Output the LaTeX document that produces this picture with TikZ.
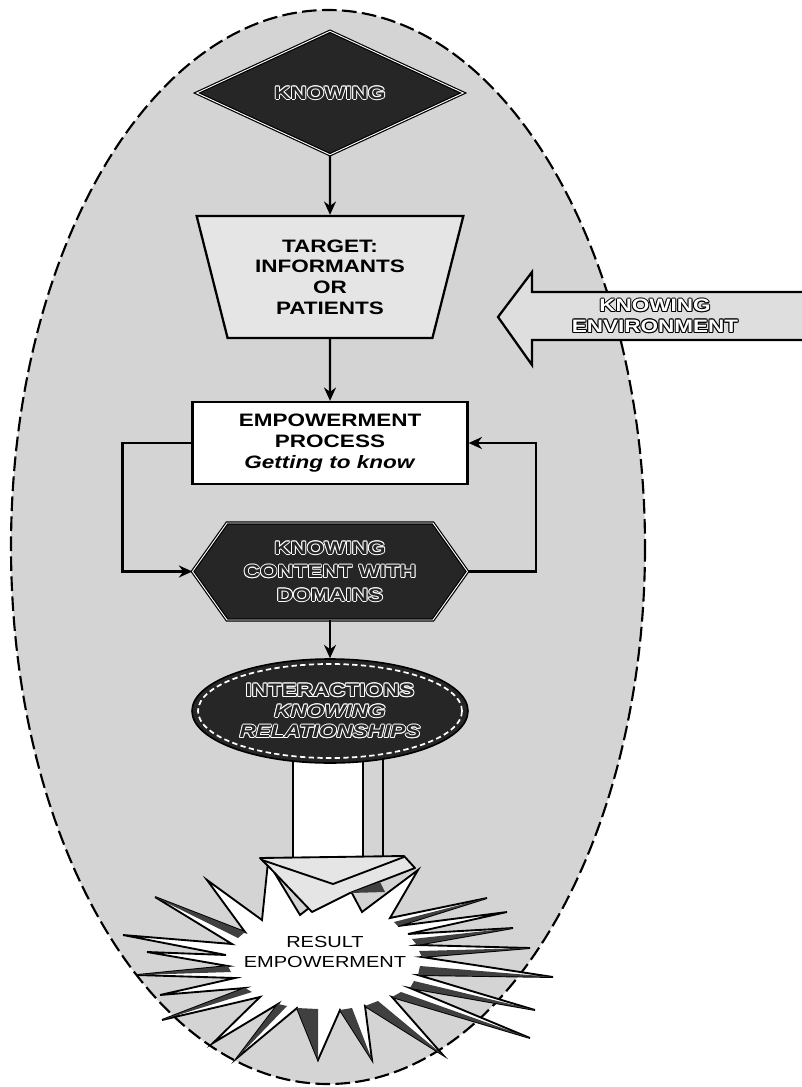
\documentclass[tikz,border=0pt]{standalone}
\usepackage{fontspec}
\setmainfont{Liberation Sans}[FakeStretch=1.25]
\usetikzlibrary{shapes.geometric,arrows.meta}
\newcommand\olt[3]{\leavevmode
 \rlap{\color{#2}\hspace*{-0.7pt}#3}\rlap{\color{#2}\hspace*{0.7pt}#3}%
 \rlap{\color{#2}\raisebox{0.7pt}{#3}}\rlap{\color{#2}\raisebox{-0.7pt}{#3}}%
 \rlap{\color{#2}\hspace*{0.5pt}\raisebox{0.5pt}{#3}}\rlap{\color{#2}\hspace*{-0.5pt}\raisebox{0.5pt}{#3}}%
 \rlap{\color{#2}\hspace*{0.5pt}\raisebox{-0.5pt}{#3}}\rlap{\color{#2}\hspace*{-0.5pt}\raisebox{-0.5pt}{#3}}%
 {\color{#1}#3}}
\newcommand\dk[1]{\olt{black!85}{white}{#1}}
\newcommand\lt[1]{\olt{white}{black}{#1}}
\begin{document}
\begin{tikzpicture}[x=0.75pt,y=-0.75pt,
  conn/.style={line width=1.8pt,-{Stealth[length=10pt,width=9pt]}},
  thick line/.style={line width=1.7pt},
  darkfill/.style={fill=black!85,draw=black,double=white,double distance=0.7pt,line width=0.9pt},
  darktext/.style={font=\bfseries\fontsize{13.5}{15.5}\selectfont,align=center,inner sep=0pt},
  lbl/.style={font=\bfseries\fontsize{13.5}{15.5}\selectfont,align=center},
  bgfill/.style={fill=black!17},
  shade/.style={fill=black!75,draw=none}]
\useasboundingbox (0,0) rectangle (801,1087);
\fill[white] (0,0) rectangle (801,1087);
% background ellipse
\draw[bgfill, draw=black, line width=1.6pt, dash pattern=on 11pt off 4pt] (328,547) ellipse [x radius=317, y radius=537];
% knowing environment arrow
\draw[thick line, fill=black!13] (498,317) -- (532,272) -- (532,292) -- (806,292) -- (806,340) -- (532,340) -- (532,365) -- cycle;
\node[lbl] (env) at (655,316) {\lt{KNOWING}\\\lt{ENVIRONMENT}};
% diamond
\node[darkfill, darktext, diamond, aspect=2, minimum width=267*0.75pt, minimum height=124*0.75pt] (know) at (330,93) {\dk{KNOWING}};
% trapezium
\node[lbl, trapezium, shape border rotate=180, trapezium left angle=74, trapezium right angle=74, trapezium stretches=true, draw, thick line, fill=black!10, minimum width=267*0.75pt, minimum height=122*0.75pt] (target) at (330,277) {TARGET:\\INFORMANTS\\OR\\PATIENTS};
% empowerment box
\node[lbl, draw, thick line, fill=white, minimum width=275*0.75pt, minimum height=82*0.75pt] (emp) at (330,443) {EMPOWERMENT\\PROCESS\\\textit{Getting to know}};
% hexagon
\draw[darkfill] (192.5,571.5) -- (227,523) -- (433,523) -- (467.5,571.5) -- (433,620) -- (227,620) -- cycle;
\node[darktext, font=\bfseries\fontsize{13.5}{17.6}\selectfont, minimum width=275*0.75pt, minimum height=97*0.75pt] (hex) at (330,571.5) {\dk{KNOWING}\\\dk{CONTENT WITH}\\\dk{DOMAINS}};
% big arrow shaft
\draw[line width=1.4pt, fill=white] (293,740) rectangle (363,858);
\draw[line width=1.4pt] (383,740) -- (383,856);
% interactions ellipse
\node[darktext, ellipse, fill=black!85, draw=black, line width=1.2pt, minimum width=276*0.75pt, minimum height=104*0.75pt] (inter) at (330,711) {\dk{INTERACTIONS}\\\dk{\textit{KNOWING}}\\\dk{\textit{RELATIONSHIPS}}};
\draw[white, line width=1.3pt, dash pattern=on 4pt off 2.5pt] (inter.center) ellipse [x radius=132, y radius=47];
% starburst
\draw[line width=1.4pt, fill=white, line join=miter]
 (268,862) -- (300,915) -- (345,880) -- (362,912) -- (418,870) -- (390,918) -- (487,898) -- (398,926)
 -- (507,912) -- (408,934) -- (513,928) -- (417,945) -- (530,948) -- (422,957) -- (553,977) -- (418,975)
 -- (535,1010) -- (410,988) -- (530,1038) -- (392,997) -- (443,1055) -- (365,1006) -- (372,1060) -- (340,1010)
 -- (318,1060) -- (297,1008) -- (237,1058) -- (278,1004) -- (213,1043) -- (260,997) -- (162,1020) -- (245,988)
 -- (160,995) -- (235,978) -- (137,975) -- (228,966) -- (147,952) -- (226,955) -- (123,935) -- (232,944)
 -- (155,897) -- (245,932) -- (207,880) -- (262,920) -- cycle;
% shaded spike halves
\fill[shade] (487,898) -- (394,922) -- (398,926) -- cycle;
\fill[shade] (513,928) -- (412,939) -- (417,945) -- cycle;
\fill[shade] (530,948) -- (419,951) -- (422,957) -- cycle;
\fill[shade] (553,977) -- (420,966) -- (418,975) -- cycle;
\fill[shade] (535,1010) -- (414,981) -- (410,988) -- cycle;
\fill[shade] (530,1038) -- (401,992) -- (392,997) -- cycle;
\fill[shade] (443,1055) -- (378,1001) -- (365,1006) -- cycle;
\fill[shade] (372,1060) -- (352,1008) -- (340,1010) -- cycle;
\fill[shade] (318,1060) -- (318,1009) -- (297,1008) -- cycle;
\fill[shade] (237,1058) -- (287,1006) -- (278,1004) -- cycle;
\fill[shade] (162,1020) -- (252,992) -- (245,988) -- cycle;
\fill[shade] (137,975) -- (231,972) -- (228,966) -- cycle;
\fill[shade] (155,897) -- (238,938) -- (245,932) -- cycle;
% arrow head
\draw[line width=1.4pt, fill=black!10, line join=round] (260,858) -- (404,856) -- (415,868) -- (350,893) -- (312,912) -- (270,868) -- cycle;
\fill[shade] (350,893) -- (380,882) -- (385,892) -- cycle;
\draw[line width=1.4pt] (262,860) -- (333,884) -- (404,857);
\node[font=\fontsize{12}{14.3}\selectfont, align=center] (result) at (325,952) {RESULT\\EMPOWERMENT};
% connectors
\draw[conn] (know.south) -- (target.north);
\draw[conn] (target.south) -- (emp.north);
\draw[conn] (emp.west) -- ++(-69,0) |- (hex.west);
\draw[conn] (hex.east) -- ++(68,0) |- (emp.east);
\draw[conn] (hex.south) -- (inter.north);
\end{tikzpicture}
\end{document}
